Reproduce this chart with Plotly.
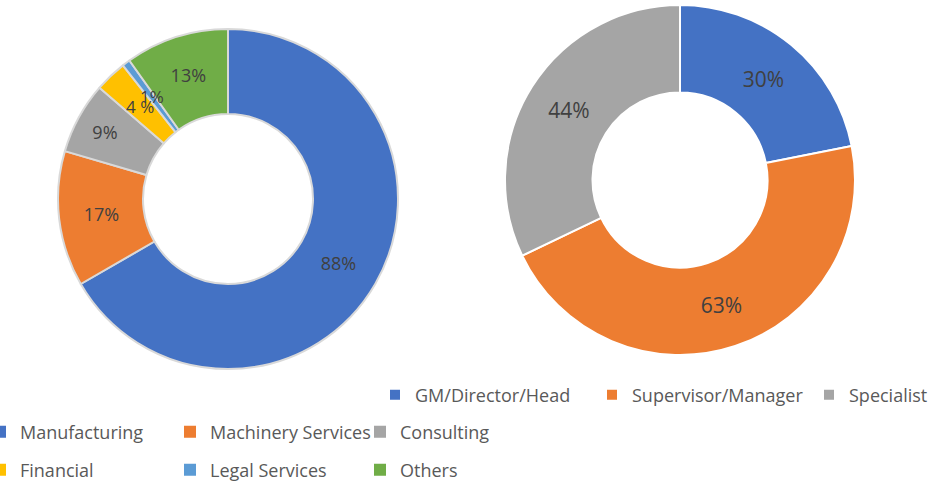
import math
import plotly.graph_objects as go

# ---- data ----
sector_labels = ["Manufacturing", "Machinery Services", "Consulting", "Financial", "Legal Services", "Others"]
sector_values = [88, 17, 9, 4, 1, 13]
sector_text = ["88%", "17%", "9%", "4 %", "1%", "13%"]
sector_colors = ["#4472C4", "#ED7D31", "#A5A5A5", "#FFC000", "#5B9BD5", "#70AD47"]

role_labels = ["GM/Director/Head", "Supervisor/Manager", "Specialist"]
role_values = [30, 63, 44]
role_text = ["30%", "63%", "44%"]
role_colors = ["#4472C4", "#ED7D31", "#A5A5A5"]

W, H = 934, 482
MB = 100
GH = H - MB

def px_x(v):
    return v / W

def px_y(v):
    return 1 - v / GH

FONT = "Open Sans"
LEG_FONT = dict(family=FONT, size=18, color="#595959")
HOLE = 0.5

# left donut geometry (pixels)
L_CX, L_CY, L_R = 228, 199, 170

# slices too thin for plotly's in-slice fitting get their label drawn at mid-ring
total = sum(sector_values)
small = [v / total < 0.05 for v in sector_values]
pie_text = ["" if s else t for t, s in zip(sector_text, small)]

annotations = []
cum = 0
for v, t, s in zip(sector_values, sector_text, small):
    mid = (cum + v / 2) / total * 2 * math.pi
    cum += v
    if not s:
        continue
    rr = L_R * (1 + HOLE) / 2
    ax = L_CX + rr * math.sin(mid)
    ay = L_CY - rr * math.cos(mid)
    annotations.append(dict(
        x=px_x(ax), y=px_y(ay), xref="paper", yref="paper", text=t, showarrow=False,
        xanchor="center", yanchor="middle",
        font=dict(family=FONT, size=17, color="#404040"),
    ))

fig = go.Figure()

# left donut
fig.add_trace(go.Pie(
    labels=sector_labels, values=sector_values, text=pie_text,
    textinfo="text", textposition="inside", insidetextorientation="horizontal",
    sort=False, direction="clockwise", rotation=0, hole=HOLE,
    marker=dict(colors=sector_colors, line=dict(color="#d9d9d9", width=2)),
    textfont=dict(family=FONT, size=18, color="#404040"),
    domain=dict(x=[px_x(L_CX - L_R), px_x(L_CX + L_R)], y=[px_y(L_CY + L_R), px_y(L_CY - L_R)]),
    showlegend=False,
))

# legend-only entries for the left donut (two rows)
for rng, lg in [(slice(0, 3), "legend2"), (slice(3, 6), "legend3")]:
    fig.add_trace(go.Pie(
        labels=sector_labels[rng], values=sector_values[rng],
        textinfo="none", sort=False, hoverinfo="skip",
        marker=dict(colors=sector_colors[rng], line=dict(width=0)),
        domain=dict(x=[px_x(L_CX), px_x(L_CX + 0.05)], y=[px_y(L_CY + 0.05), px_y(L_CY)]),
        legend=lg, showlegend=True,
    ))

# right donut
fig.add_trace(go.Pie(
    labels=role_labels, values=role_values, text=role_text,
    textinfo="text", textposition="inside", insidetextorientation="horizontal",
    sort=False, direction="clockwise", rotation=0, hole=HOLE,
    marker=dict(colors=role_colors, line=dict(color="#ffffff", width=2)),
    textfont=dict(family=FONT, size=21, color="#404040"),
    domain=dict(x=[px_x(505), px_x(855)], y=[px_y(355), px_y(5)]),
    showlegend=True, legend="legend",
))

fig.update_layout(
    width=W, height=H,
    margin=dict(l=0, r=0, t=0, b=MB, autoexpand=False),
    paper_bgcolor="white", plot_bgcolor="white",
    annotations=annotations,
    legend=dict(orientation="h", x=px_x(375), xanchor="left", y=px_y(395), yanchor="middle",
                font=LEG_FONT, entrywidth=172, bgcolor="rgba(0,0,0,0)"),
    legend2=dict(orientation="h", x=px_x(-20), xanchor="left", y=px_y(432), yanchor="middle",
                 font=LEG_FONT, entrywidth=145, bgcolor="rgba(0,0,0,0)"),
    legend3=dict(orientation="h", x=px_x(-20), xanchor="left", y=px_y(470), yanchor="middle",
                 font=LEG_FONT, entrywidth=145, bgcolor="rgba(0,0,0,0)"),
)

fig.write_html("out.html")
